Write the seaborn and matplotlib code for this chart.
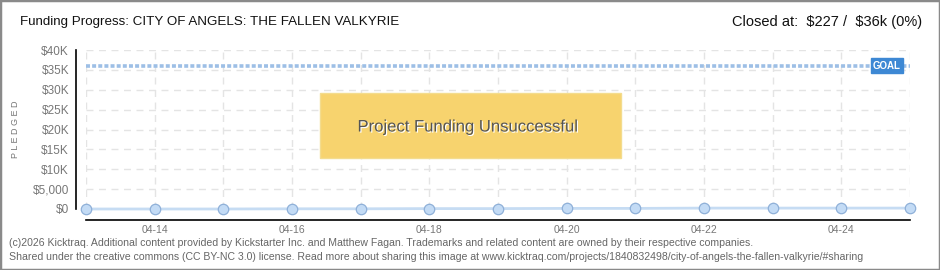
import matplotlib
matplotlib.use("Agg")
import matplotlib.pyplot as plt
import seaborn as sns
import pandas as pd
import numpy as np
from matplotlib.patches import Rectangle
import matplotlib.patheffects as pe
from matplotlib.ticker import FixedLocator, MultipleLocator

# ---- data ----
dates = ["04-13", "04-14", "04-15", "04-16", "04-17", "04-18", "04-19",
         "04-20", "04-21", "04-22", "04-23", "04-24", "04-25"]
pledged = [0, 0, 0, 50, 50, 100, 100, 150, 150, 227, 227, 227, 227]
goal = 36000
ytick_values = [0, 5000, 10000, 15000, 20000, 25000, 30000, 35000, 40000]
ytick_labels = ["\\$0", "\\$5,000", "\\$10K", "\\$15K", "\\$20K", "\\$25K", "\\$30K", "\\$35K", "\\$40K"]
xtick_labels = ["04-14", "04-16", "04-18", "04-20", "04-22", "04-24"]
title = "Funding Progress: CITY OF ANGELS: THE FALLEN VALKYRIE"
closed_text = "Closed at:  \\$227 /  \\$36k (0%)"
footer1 = ("(c)2026 Kicktraq. Additional content provided by Kickstarter Inc. and Matthew Fagan. "
           "Trademarks and related content are owned by their respective companies.")
footer2 = ("Shared under the creative commons (CC BY-NC 3.0) license. Read more about sharing this image at "
           "www.kicktraq.com/projects/1840832498/city-of-angels-the-fallen-valkyrie/#sharing")

df = pd.DataFrame({"day": np.arange(len(dates)), "pledged": pledged})

sns.set_style("white")
plt.rcParams["font.family"] = ["Liberation Sans Narrow", "Liberation Sans", "DejaVu Sans"]

W, H = 940, 270
PX = 72 / 100  # points per pixel
fig = plt.figure(figsize=(W / 100, H / 100), dpi=100)
fig.patch.set_facecolor("white")
fig.patches.append(Rectangle((0, 0), 1, 1, transform=fig.transFigure, fill=False,
                             edgecolor="#8a8a8a", linewidth=2.5))

left, right, top, bottom = 86, 910, 50, 209
ax = fig.add_axes([left / W, 1 - bottom / H, (right - left) / W, (bottom - top) / H])

# grid
for v in ytick_values:
    ax.axhline(v, color="#e4e4e4", lw=1, ls=(0, (5, 4)), zorder=0)
for d in df["day"]:
    ax.axvline(d, color="#e4e4e4", lw=1, ls=(0, (5, 4)), zorder=0)

# goal line
ax.axhline(goal, color="#9dbfe6", lw=2.6, ls=(0, (1.1, 0.6)), zorder=2)

sns.lineplot(data=df, x="day", y="pledged", ax=ax, color="#c6dcf3", lw=2,
             marker="o", markersize=7.5, markerfacecolor="#c3dbf5",
             markeredgecolor="#8fb0d8", markeredgewidth=0.9, zorder=4, clip_on=False)

ax.set_xlim(0, len(dates) - 1)
ax.set_ylim(0, 40000)
ax.set_xlabel("")
ax.set_ylabel("P L E D G E D", color="#777777", fontsize=6.5)
ax.yaxis.set_label_coords((20 - left) / (right - left), 0.5)

ax.yaxis.set_major_locator(FixedLocator(ytick_values))
ax.set_yticklabels(ytick_labels)
ax.yaxis.set_minor_locator(MultipleLocator(2500))
xt = [dates.index(l) for l in xtick_labels]
ax.set_xticks(xt)
ax.set_xticklabels(xtick_labels)
ax.set_xticks(df["day"], minor=True)

ax.tick_params(axis="y", which="major", direction="out", length=3, width=1, color="black",
               labelsize=8.5, labelcolor="#777777", pad=2)
ax.tick_params(axis="y", which="minor", direction="out", length=3, width=1, color="#e00000")
ax.tick_params(axis="x", which="both", direction="out", length=3, width=1, color="black",
               labelsize=7.5, labelcolor="#777777", pad=0.5)

for s in ["top", "right"]:
    ax.spines[s].set_visible(False)
ax.spines["left"].set_position(("outward", 10 * PX))
ax.spines["bottom"].set_position(("outward", 11 * PX))
ax.spines["left"].set_color("black")
ax.spines["bottom"].set_color("black")
ax.spines["left"].set_linewidth(1.2)
ax.spines["bottom"].set_linewidth(1.2)

# GOAL label
ax.text((887 - left) / (right - left), goal, "GOAL", transform=ax.get_yaxis_transform(),
        ha="center", va="center", fontsize=7, color="white", fontweight="bold", zorder=6,
        bbox=dict(boxstyle="square,pad=0.25", facecolor="#3d88d4", edgecolor="#3d88d4"))

# Unsuccessful box
bx0, bx1, by0, by1 = 320, 621, 93, 158
ax.add_patch(Rectangle(((bx0 - left) / (right - left), (bottom - by1) / (bottom - top)),
                       (bx1 - bx0) / (right - left), (by1 - by0) / (bottom - top),
                       transform=ax.transAxes, facecolor="#f7d36e", edgecolor="#f3dc8e",
                       lw=1, zorder=5, clip_on=False))
ax.text((468 - left) / (right - left), (bottom - 127) / (bottom - top),
        "Project Funding Unsuccessful", transform=ax.transAxes, ha="center", va="center",
        fontsize=12, color="#555555", zorder=6,
        path_effects=[pe.withSimplePatchShadow(offset=(0.8, -0.8), shadow_rgbFace="white", alpha=1)])

fig.text(20 / W, 1 - 22 / H, title, fontsize=9.6, color="#111111", ha="left", va="center")
fig.text(922 / W, 1 - 22 / H, closed_text, fontsize=10.5, color="#111111", ha="right", va="center")
fig.text(9 / W, 1 - 243 / H, footer1, fontsize=7.6, color="#666666", ha="left", va="center")
fig.text(9 / W, 1 - 257 / H, footer2, fontsize=7.6, color="#666666", ha="left", va="center")

fig.savefig("out.png", dpi=100)
